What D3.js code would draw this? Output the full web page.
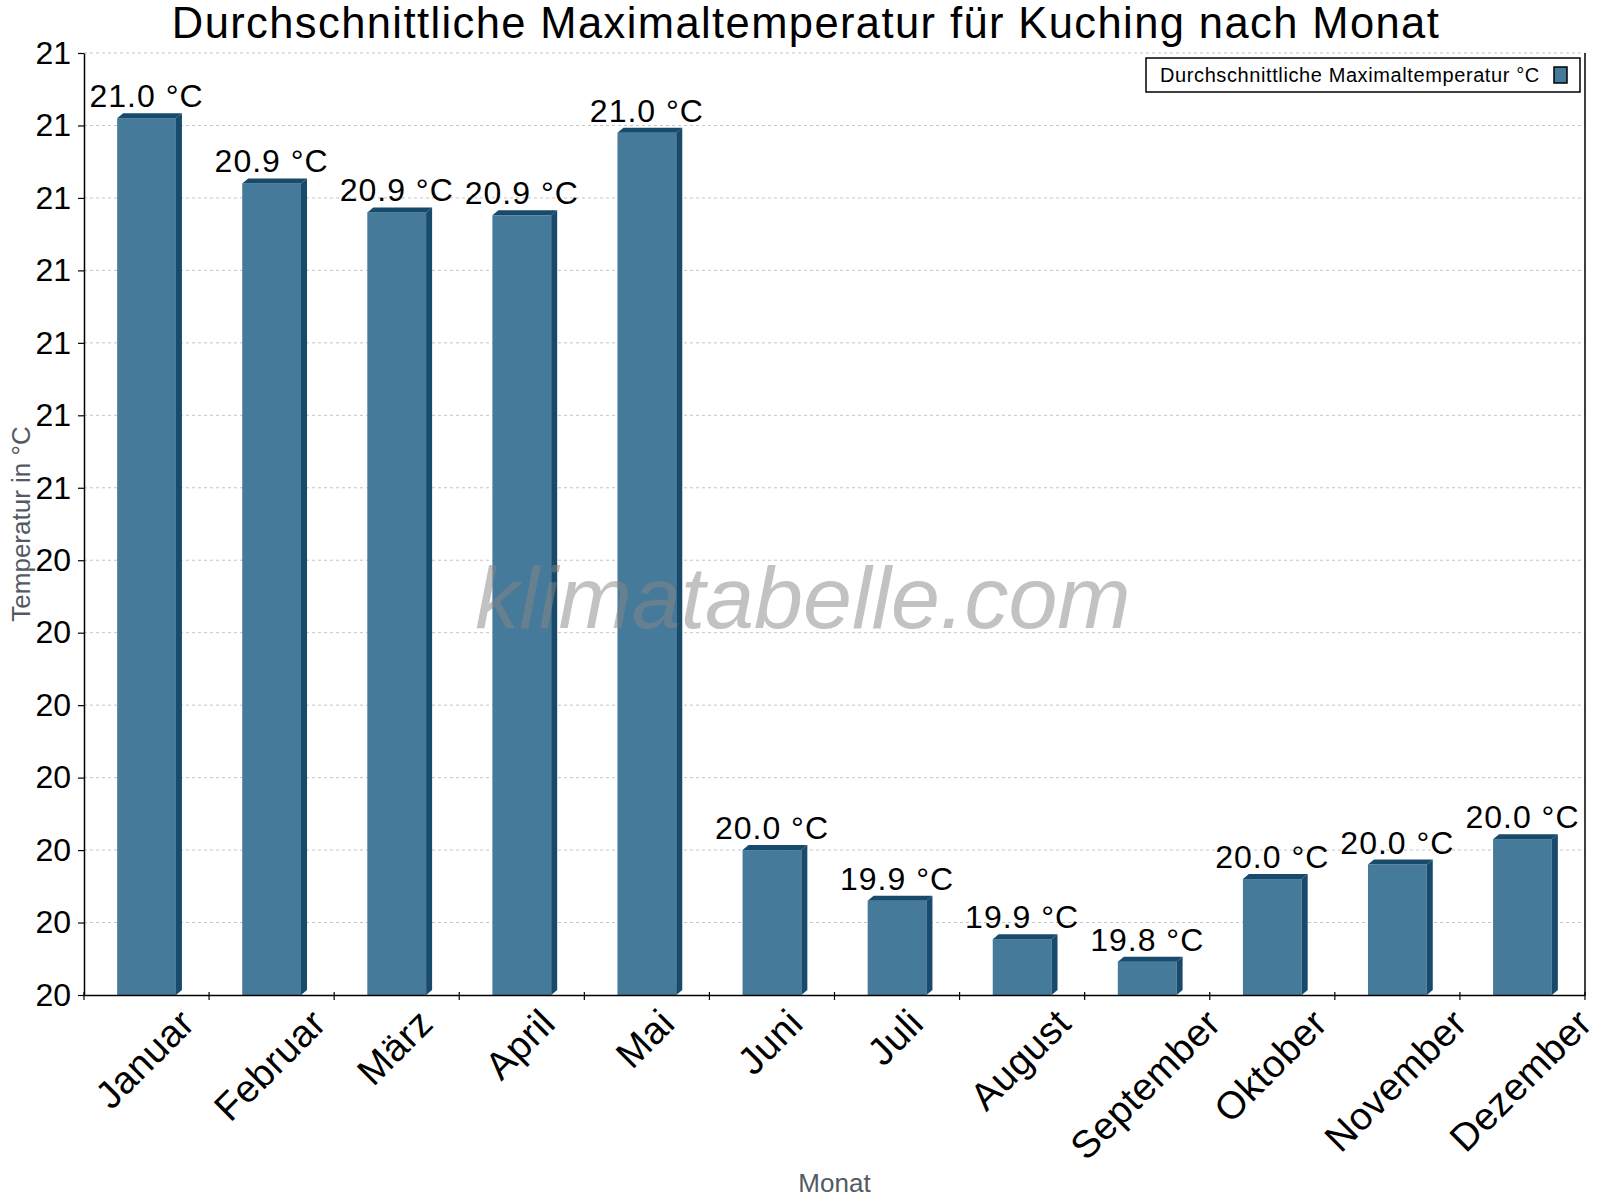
<!DOCTYPE html>
<html lang="de">
    <head>
        <meta charset="utf-8">
        <style>
            body { margin: 0; background: #fff; }
            text { font-family: "Liberation Sans", Arial, sans-serif; }
        </style>
    </head>
    <body>

        <svg id="chart" width="1600" height="1200"></svg>

        <script src="https://cdn.jsdelivr.net/npm/d3@7/dist/d3.min.js"></script>

        <script>
            // data
            var months = ["Januar", "Februar", "März", "April", "Mai", "Juni",
                "Juli", "August", "September", "Oktober", "November", "Dezember"];
            var maxTemp = [21.01, 20.92, 20.88, 20.876, 20.99, 20.0,
                19.93, 19.877, 19.846, 19.96, 19.98, 20.015];
            var yTicks = [19.8, 19.9, 20.0, 20.1, 20.2, 20.3, 20.4,
                20.5, 20.6, 20.7, 20.8, 20.9, 21.0, 21.1];
            var titleText = "Durchschnittliche Maximaltemperatur für Kuching nach Monat";
            var legendText = "Durchschnittliche Maximaltemperatur °C";

            // (window.top is read only, so no "top" here)
            var plotL = 84, plotR = 1585, plotT = 53, plotB = 995;
            var front = "#467a9b", dark = "#184a6b";
            var dx = 6, dy = 5;

            var svg = d3.select("#chart");

            var x = d3.scaleBand()
                .domain(months)
                .range([plotL, plotR])
                .paddingInner(0)
                .paddingOuter(0);

            var y = d3.scaleLinear()
                .domain([yTicks[0], yTicks[yTicks.length - 1]])
                .range([plotB, plotT]);

            // grid
            svg.append("g").selectAll("line")
                .data(yTicks.slice(1))
                .enter()
                .append("line")
                .attr("x1", plotL)
                .attr("x2", plotR)
                .attr("y1", function(d){ return y(d); })
                .attr("y2", function(d){ return y(d); })
                .attr("stroke", "#c4c4c4")
                .attr("stroke-width", 1)
                .attr("stroke-dasharray", "3,3");

            // bars (front face, side, top cap)
            var bw = x.bandwidth() * 0.47;
            var bars = svg.append("g").selectAll("g")
                .data(maxTemp)
                .enter()
                .append("g");

            bars.append("rect")
                .attr("x", function(d, i){ return x(months[i]) + (x.bandwidth() - bw) / 2; })
                .attr("y", function(d){ return y(d); })
                .attr("width", bw)
                .attr("height", function(d){ return plotB - y(d); })
                .attr("fill", front);

            bars.append("path")
                .attr("fill", dark)
                .attr("d", function(d, i){
                    var x0 = x(months[i]) + (x.bandwidth() - bw) / 2;
                    var t = y(d);
                    return "M" + (x0 + bw) + "," + t
                        + "L" + (x0 + bw + dx) + "," + (t - dy)
                        + "L" + (x0 + bw + dx) + "," + (plotB - dy)
                        + "L" + (x0 + bw) + "," + plotB + "Z";
                });

            bars.append("path")
                .attr("fill", dark)
                .attr("d", function(d, i){
                    var x0 = x(months[i]) + (x.bandwidth() - bw) / 2;
                    var t = y(d);
                    return "M" + x0 + "," + t
                        + "L" + (x0 + dx) + "," + (t - dy)
                        + "L" + (x0 + bw + dx) + "," + (t - dy)
                        + "L" + (x0 + bw) + "," + t + "Z";
                });

            // watermark
            svg.append("text")
                .attr("x", 803)
                .attr("y", 628)
                .attr("text-anchor", "middle")
                .attr("font-size", 88)
                .attr("font-style", "italic")
                .attr("font-weight", 300)
                .attr("fill", "#858585")
                .attr("fill-opacity", 0.5)
                .text("klimatabelle.com");

            // value labels
            svg.append("g").selectAll("text")
                .data(maxTemp)
                .enter()
                .append("text")
                .attr("x", function(d, i){ return x(months[i]) + x.bandwidth() / 2; })
                .attr("y", function(d){ return y(d) - dy - 6; })
                .attr("text-anchor", "middle")
                .attr("font-size", 32)
                .attr("letter-spacing", 1)
                .attr("fill", "#000")
                .text(function(d){ return d.toFixed(1) + " °C"; });

            // y axis
            var yAxis = d3.axisLeft(y)
                .tickValues(yTicks)
                .tickFormat(function(d){ return Math.round(d); })
                .tickSize(6)
                .tickSizeOuter(0)
                .tickPadding(7);

            var gy = svg.append("g")
                .attr("transform", "translate(" + plotL + ",0)")
                .call(yAxis);
            gy.select(".domain").attr("stroke", "#000").attr("stroke-width", 1.5);
            gy.selectAll(".tick line").attr("stroke", "#000").attr("stroke-width", 1.2);
            gy.selectAll(".tick text")
                .attr("font-size", 32)
                .attr("font-family", "'Liberation Sans', Arial, sans-serif")
                .attr("fill", "#000");

            // x axis
            var xAxis = d3.axisBottom(x)
                .tickSize(0)
                .tickSizeOuter(0)
                .tickFormat("");

            var gx = svg.append("g")
                .attr("transform", "translate(0," + plotB + ")")
                .call(xAxis);
            gx.select(".domain").attr("stroke", "#000").attr("stroke-width", 1.5);

            // ticks on the band edges
            var edges = months.map(function(m){ return x(m); }).concat([plotR]);
            svg.append("g").selectAll("line")
                .data(edges)
                .enter()
                .append("line")
                .attr("x1", function(d){ return d; })
                .attr("x2", function(d){ return d; })
                .attr("y1", plotB - 3)
                .attr("y2", plotB + 5)
                .attr("stroke", "#000")
                .attr("stroke-width", 1.2);

            // right border
            svg.append("line")
                .attr("x1", plotR).attr("x2", plotR)
                .attr("y1", plotT).attr("y2", plotB)
                .attr("stroke", "#000")
                .attr("stroke-width", 1.5);

            // rotated month labels, box top kept on one line
            svg.append("g").selectAll("text")
                .data(months)
                .enter()
                .append("text")
                .attr("font-size", 38.5)
                .attr("letter-spacing", 0.5)
                .attr("text-anchor", "middle")
                .attr("dominant-baseline", "central")
                .attr("fill", "#000")
                .text(function(d){ return d; })
                .each(function(d){
                    var L = this.getComputedTextLength();
                    var cx = x(d) + x.bandwidth() / 2 - 2;
                    var cy = 1016 + L * 0.3536;
                    d3.select(this)
                        .attr("x", cx)
                        .attr("y", cy)
                        .attr("transform", "rotate(-45," + cx + "," + cy + ")");
                });

            // axis titles
            svg.append("text")
                .attr("x", (plotL + plotR) / 2)
                .attr("y", 1192)
                .attr("text-anchor", "middle")
                .attr("font-size", 26)
                .attr("fill", "#525a63")
                .text("Monat");

            svg.append("text")
                .attr("transform", "translate(30," + ((plotT + plotB) / 2) + ") rotate(-90)")
                .attr("text-anchor", "middle")
                .attr("font-size", 26)
                .attr("fill", "#525a63")
                .text("Temperatur in °C");

            // title
            svg.append("text")
                .attr("x", 806)
                .attr("y", 38)
                .attr("text-anchor", "middle")
                .attr("font-size", 43.5)
                .attr("letter-spacing", 1.4)
                .attr("fill", "#000")
                .text(titleText);

            // legend
            var lg = svg.append("g");
            lg.append("rect")
                .attr("x", 1146).attr("y", 58)
                .attr("width", 434).attr("height", 34)
                .attr("fill", "#fff")
                .attr("stroke", "#000")
                .attr("stroke-width", 1.5);
            lg.append("text")
                .attr("x", 1160).attr("y", 82)
                .attr("font-size", 20)
                .attr("letter-spacing", 0.6)
                .attr("fill", "#000")
                .text(legendText);
            lg.append("rect")
                .attr("x", 1554).attr("y", 67)
                .attr("width", 13).attr("height", 16)
                .attr("fill", front)
                .attr("stroke", "#000")
                .attr("stroke-width", 1.5);
        </script>

    </body>
</html>
